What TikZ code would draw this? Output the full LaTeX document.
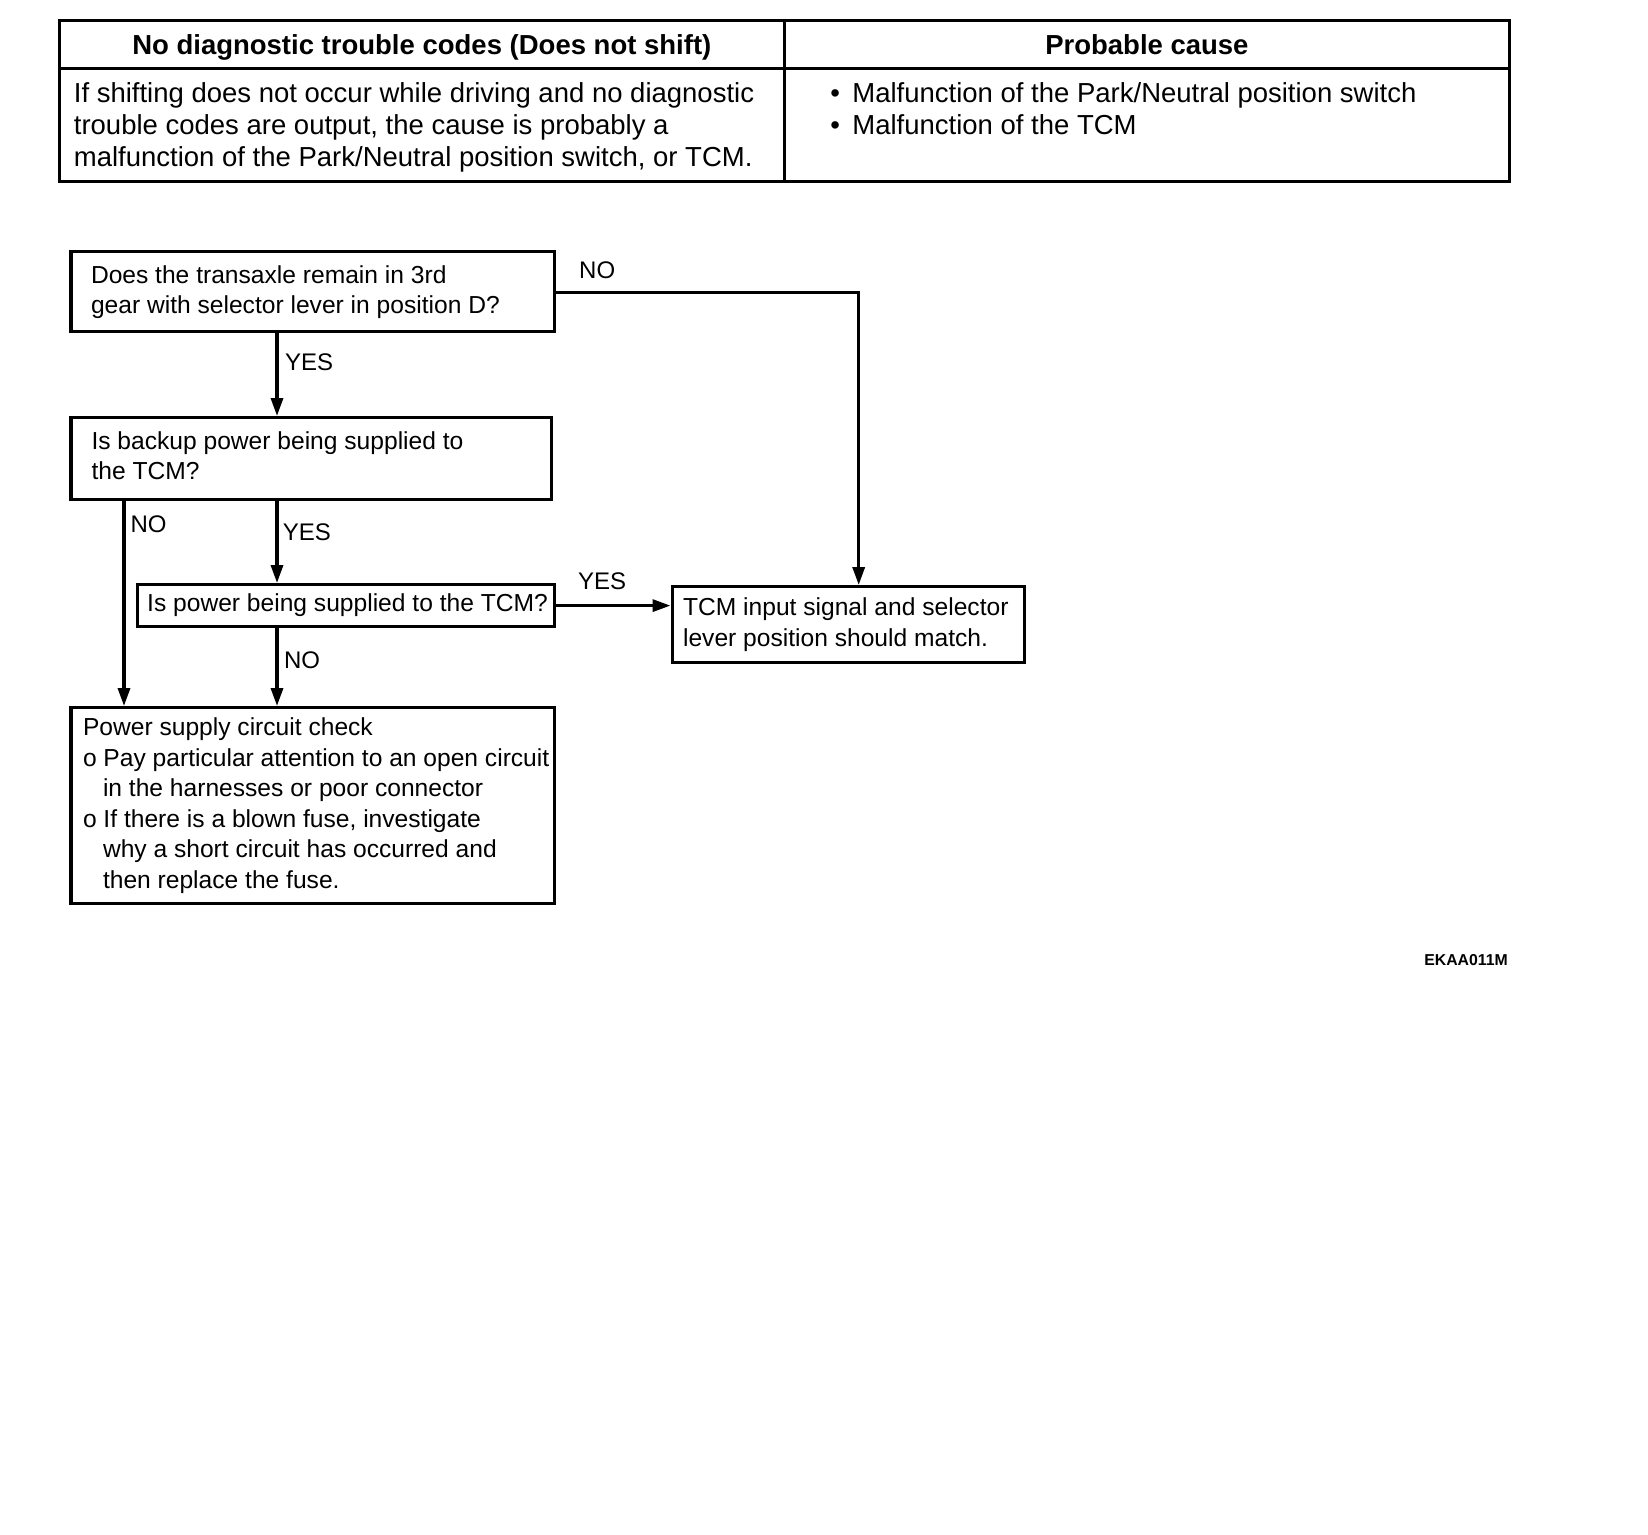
\documentclass[tikz,border=0pt]{standalone}
\usepackage{fontspec}
\setmainfont{Liberation Sans}
\usetikzlibrary{arrows.meta}
\newcommand\mytbl[1]{\begin{tabular}{@{}l@{}}#1\end{tabular}}
\newcommand\inbox[4]{\makebox[#1][l]{\hspace*{#2}\raisebox{-#3}[\height][\depth]{\mytbl{#4}}}}
\tikzset{
  flowbox/.style={draw, line width=3.2pt, inner sep=0pt, anchor=north west, font=\fontsize{24.6}{30.5}\selectfont},
  tcell/.style={draw, line width=2.8pt, inner sep=0pt, anchor=north west, font=\fontsize{27.5}{32}\selectfont},
  hcell/.style={tcell, text height=19.7pt, text depth=0pt},
  lbl/.style={anchor=west, inner sep=0pt, font=\fontsize{24}{28}\selectfont},
  link/.style={line width=3.3pt},
  arrowlink/.style={link, -{Triangle[length=18pt,width=12pt]}},
}
\begin{document}
\begin{tikzpicture}[x=1pt,y=-1pt]
\useasboundingbox (0,0) rectangle (1648,1534);
% table
\node[hcell, minimum width=725.2pt, minimum height=48.4pt] (h1) at (57.8,18.9) {\bfseries No diagnostic trouble codes (Does not shift)};
\node[hcell, minimum width=725pt, minimum height=48.4pt] (h2) at (783,18.9) {\bfseries Probable cause};
\node[tcell, minimum width=725.2pt, minimum height=112.4pt] (d1) at (57.8,67.3) {\inbox{725.2pt}{14.7pt}{3pt}{If shifting does not occur while driving and no diagnostic\\ trouble codes are output, the cause is probably a\\ malfunction of the Park/Neutral position switch, or TCM.}};
\node[tcell, minimum width=725pt, minimum height=112.4pt] (d2) at (783,67.3) {\inbox{725pt}{46pt}{3pt}{\makebox[22pt][l]{•}Malfunction of the Park/Neutral position switch\\ \makebox[22pt][l]{•}Malfunction of the TCM\\ \mbox{}}};
% flow boxes
\node[flowbox, minimum width=483.4pt, minimum height=80pt] (b1) at (69.4,250) {\inbox{483.4pt}{20pt}{1pt}{Does the transaxle remain in 3rd\\ gear with selector lever in position D?}};
\node[flowbox, minimum width=480.3pt, minimum height=82pt] (b2) at (69.4,416) {\inbox{480.3pt}{20.5pt}{0pt}{Is backup power being supplied to\\ the TCM?}};
\node[flowbox, minimum width=417.2pt, minimum height=42pt] (b3) at (135.6,583) {\inbox{417.2pt}{10pt}{0pt}{Is power being supplied to the TCM?}};
\node[flowbox, minimum width=352.1pt, minimum height=76pt] (tcm) at (670.5,585) {\inbox{352.1pt}{11pt}{0.5pt}{TCM input signal and selector\\ lever position should match.}};
\node[flowbox, minimum width=483.4pt, minimum height=196pt] (b4) at (69.4,706) {\inbox{483.4pt}{12pt}{0.5pt}{Power supply circuit check\\ o Pay particular attention to an open circuit\\ \hspace*{20pt}in the harnesses or poor connector\\ o If there is a blown fuse, investigate\\ \hspace*{20pt}why a short circuit has occurred and\\ \hspace*{20pt}then replace the fuse.}};
% connectors
\coordinate (cN) at (858.7,292.2);
\coordinate (xY) at (277,0);
\coordinate (xN) at (124,0);
\draw[arrowlink] (b1.east |- cN) -- (cN) -- (cN |- tcm.north);
\draw[arrowlink] (b1.south -| xY) -- (b2.north -| xY);
\draw[arrowlink] (b2.south -| xN) -- (b4.north -| xN);
\draw[arrowlink] (b2.south -| xY) -- (b3.north -| xY);
\draw[arrowlink] (b3.south -| xY) -- (b4.north -| xY);
\draw[arrowlink] (b3.east) -- (b3.east -| tcm.west);
% labels
\node[lbl] (l1) at (579,270) {NO};
\node[lbl] (l2) at (284.8,362.6) {YES};
\node[lbl] (l3) at (130.3,524.5) {NO};
\node[lbl] (l4) at (282.7,531.8) {YES};
\node[lbl] (l5) at (578,581.2) {YES};
\node[lbl] (l6) at (283.8,660) {NO};
\node[font=\fontsize{15.8}{18}\selectfont\bfseries, inner sep=0pt] (code) at (1466,960) {EKAA011M};
\end{tikzpicture}
\end{document}
